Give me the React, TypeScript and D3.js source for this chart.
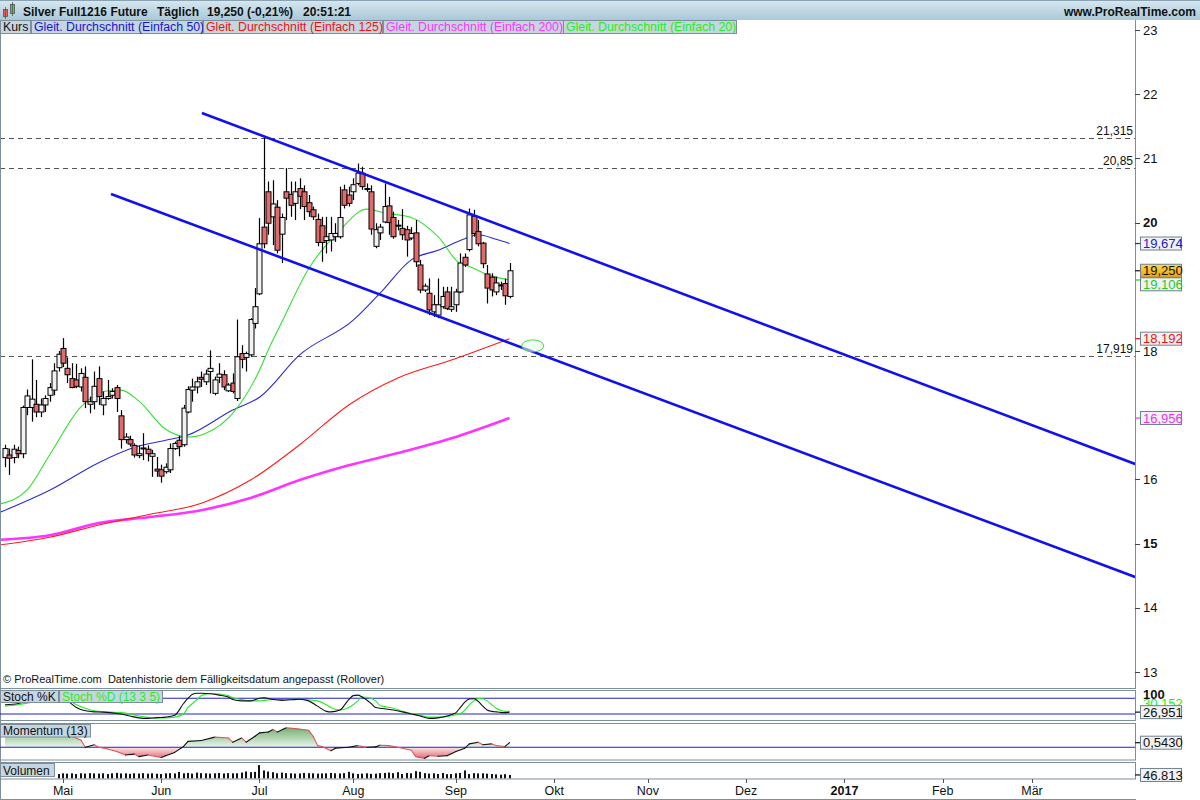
import React from 'react';
import * as d3 from 'd3';

// ---------- DATA ----------
const FIRST_INDEX = -13; // trading-day index (0 = 2 May 2016)
const openP = [16.34,16.38,16.34,16.45,16.40,17.12,17.12,17.17,17.05,17.16,17.31,17.39,17.74,
  18.04,17.73,17.57,17.55,17.44,17.59,17.17,17.21,17.57,17.16,
  17.26,17.31,17.43,16.99,16.62,16.62,16.53,16.37,16.48,16.47,
  16.36,16.16,16.15,16.12,16.15,16.48,16.61,16.54,17.05,17.39,
  17.44,17.59,17.52,17.68,17.34,17.59,17.63,17.38,17.50,17.26,
  17.96,17.90,17.94,18.43,18.89,19.93,20.48,20.09,20.24,19.82,
  20.48,20.44,20.30,20.53,20.48,20.31,20.20,20.05,19.95,19.72,
  19.73,19.78,19.78,20.51,20.43,20.48,20.61,20.77,20.53,20.48,
  19.63,19.84,20.01,20.26,20.08,19.96,19.91,19.89,19.76,19.84,
  19.34,18.95,18.90,18.61,18.56,18.69,18.92,18.65,18.72,18.92,
  19.46,19.58,20.10,19.86,19.68,19.20,19.15,18.92,19.03,19.05,18.85];
const highP = [16.54,16.48,16.54,16.51,17.15,17.40,17.87,17.55,17.26,17.31,17.50,17.81,18.00,
  18.20,17.90,17.81,17.80,17.73,17.76,17.29,17.68,17.76,17.37,
  17.55,17.42,17.47,17.08,16.72,16.68,16.56,16.53,16.72,16.53,
  16.46,16.35,16.23,16.25,16.56,16.59,16.68,17.16,17.45,17.57,
  17.60,17.68,17.71,18.01,17.60,17.81,17.70,17.50,17.65,18.49,
  18.09,17.99,18.51,18.98,20.07,21.315,20.64,20.66,20.35,20.14,
  20.85,20.64,20.64,20.69,20.58,20.43,20.25,20.14,20.09,20.09,
  20.09,19.99,20.56,20.59,20.56,20.69,20.92,20.87,20.61,20.58,
  19.99,19.98,20.61,20.40,20.17,20.04,20.21,19.95,19.93,20.04,
  19.42,19.05,19.13,18.87,19.13,19.00,19.00,19.00,18.97,19.52,
  19.52,20.22,20.20,20.04,19.70,19.34,19.21,19.16,19.08,19.13,19.37];
const lowP = [16.19,16.07,16.25,16.33,16.33,17.00,16.90,16.97,16.97,17.05,17.21,17.31,17.68,
  17.75,17.50,17.42,17.42,17.37,17.11,17.03,17.09,17.16,17.00,
  17.24,17.26,17.05,16.48,16.56,16.51,16.34,16.33,16.30,16.28,
  16.04,16.04,15.95,16.09,16.10,16.46,16.36,16.51,17.03,17.21,
  17.34,17.44,17.47,17.34,17.31,17.50,17.39,17.36,17.34,17.22,
  17.73,17.68,17.91,18.35,18.87,19.60,19.81,19.65,19.52,19.37,
  20.04,20.09,20.04,20.21,20.04,20.09,20.04,19.63,19.39,19.52,
  19.55,19.70,19.75,20.22,20.25,20.35,20.58,20.51,20.48,19.81,
  19.60,19.73,19.99,19.81,19.75,19.88,19.73,19.47,19.73,19.31,
  18.90,18.92,18.56,18.53,18.51,18.66,18.64,18.61,18.61,18.90,
  19.31,19.55,19.78,19.63,19.29,18.74,18.85,18.87,18.95,18.72,18.82];
const closeP = [16.48,16.33,16.47,16.40,17.12,17.30,17.25,17.05,17.16,17.26,17.43,17.69,17.95,
  17.81,17.63,17.43,17.45,17.65,17.21,17.21,17.45,17.29,17.26,
  17.29,17.37,17.26,16.62,16.66,16.55,16.38,16.40,16.49,16.40,
  16.40,16.13,16.05,16.19,16.48,16.56,16.51,17.11,17.40,17.44,
  17.52,17.56,17.64,17.73,17.55,17.64,17.44,17.47,17.37,17.91,
  17.87,17.96,18.49,18.69,19.67,19.67,19.99,20.29,19.57,20.08,
  20.38,20.27,20.48,20.41,20.25,20.17,20.09,19.69,19.69,19.78,
  19.83,19.83,20.08,20.27,20.30,20.59,20.77,20.56,20.52,19.90,
  19.89,19.93,20.25,20.00,19.78,19.95,19.81,19.73,19.83,19.39,
  18.95,19.01,18.64,18.72,18.72,18.85,18.66,18.69,18.92,19.37,
  19.34,20.12,19.83,19.67,19.36,18.98,18.95,19.06,19.02,18.86,19.25];

// moving averages (index, value)
const ma20Idx = [-14,-8,-3,4,10,13,17,23,28,32,38,44,46,49,55,62,68,72,78,84,89,90,96,100];
const ma20Val = [15.62,15.84,16.38,17.13,17.38,17.39,17.22,16.78,16.66,16.72,17.03,17.70,18.02,18.45,19.28,19.88,20.21,20.15,20.08,19.78,19.36,19.34,19.17,19.106];
const ma50Idx = [-14,-3,8,16,23,28,38,44,53,65,71,78,84,90,93,97,100];
const ma50Val = [15.49,15.83,16.26,16.50,16.61,16.69,17.08,17.28,17.94,18.48,18.90,19.42,19.57,19.75,19.81,19.74,19.674];
const ma125Idx = [-14,-3,8,19,31,42,53,64,75,87,100];
const ma125Val = [14.98,15.10,15.29,15.45,15.63,15.99,16.54,17.16,17.58,17.86,18.192];
const ma200Idx = [-14,-3,8,19,31,42,53,64,75,87,100];
const ma200Val = [15.06,15.13,15.32,15.41,15.52,15.71,15.99,16.22,16.41,16.64,16.956];

// trend channel lines: [index1, price1, index2, price2]
const upperTrend = [31.1, 21.707, 240.1, 16.24];
const lowerTrend = [10.75, 20.446, 240.1, 14.48];

const hLevels = [21.315, 20.85, 17.919];
const hLevelLabels = ['21,315', '20,85', '17,919'];

const priceTicks = [23, 22, 21, 20, 18, 16, 15, 14, 13];
const boldTicks = [20, 15];

const monthLabels = ['Mai','Jun','Jul','Aug','Sep','Okt','Nov','Dez','2017','Feb','Mär'];
const monthIdx = [0, 22, 44, 65, 88, 110, 131, 153, 175, 197, 217];

// stochastic (index, %K, %D)
const stochIdx = [-13,-10,-7,-4,-1,1,3,5,7,9,11,13,15,17,19,21,23,25,27,28,29,30,31,33,35,37,38,40,42,44,45,47,49,51,53,55,57,59,60,62,64,65,66,67,69,70,71,72,74,76,78,80,82,84,86,87,88,89,90,91,92,93,94,95,96,97,98,99,100];
const stochK = [55,60,75,80,85,70,45,32,28,27,24,20,12,5,3,6,8,15,60,80,95,99,99,97,92,85,75,70,70,80,82,75,72,74,76,70,50,30,28,35,75,90,92,85,60,45,42,40,35,28,20,12,3,5,12,18,25,45,65,77,78,68,50,35,30,28,26,25,26.951];
const stochD = [50,55,65,72,78,75,55,42,32,28,27,25,20,12,7,5,5,8,20,45,60,75,90,98,96,90,82,75,70,70,72,75,75,75,76,74,70,55,45,35,45,55,70,85,80,70,52,48,42,30,22,15,8,8,10,13,17,22,35,55,70,79,78,70,55,42,34,30,30.152];

// momentum (13)
const momIdx = [-13,-10,-7,-4,-1,2,4,5,7,8,10,12,14,16,17,19,22,23,25,27,28,31,34,37,38,40,41,43,44,46,47,48,50,52,55,56,57,58,60,61,64,66,68,70,71,73,75,78,79,81,82,84,86,88,90,91,93,94,96,97,99,100];
const momVal = [1.9,2.0,2.1,2.0,1.9,1.3,0.86,0.0,0.3,0.0,-0.2,-0.5,-0.9,-0.8,-1.1,-0.9,-1.2,-1.0,-0.6,0.1,0.7,0.8,1.2,1.1,0.6,1.1,0.6,1.3,1.7,1.8,2.1,1.8,2.3,2.2,2.0,1.3,0.2,0.1,-0.4,-0.1,0.0,0.2,0.0,0.05,0.25,0.2,0.0,-0.35,-1.1,-1.3,-1.0,-1.05,-1.0,-0.5,-0.1,0.4,0.6,0.3,0.4,0.2,0.1,0.543];

// volume (thousands), starting at index -1
const VOL_FIRST = -1;
const volume = [60,70,65,70,60,70,65,72,68,65,70,60,70,75,68,70,62,70,66,72,65,70,64,60,70,72,68,90,70,75,65,80,72,70,66,70,75,68,72,70,70,80,95,85,90,185,110,95,85,70,80,72,70,66,68,75,72,70,65,68,70,75,70,68,72,90,70,60,65,70,62,65,72,75,80,72,85,60,75,70,100,90,72,65,70,60,75,58,60,70,75,110,60,72,68,70,64,60,55,50,58,47];

// ---------- LAYOUT ----------
const FONT = '"Liberation Sans", Arial, sans-serif';
const FRAME = '#7d8e9c';
const PR = 1135;
const MAIN_TOP = 20;
const MAIN_BOTTOM = 688;

export default function App() {
  const x = d3.scaleLinear().domain([0, 217]).range([63, 1032]);
  const y = d3.scaleLinear().domain([13, 23]).range([672, 30]);
  const ys = d3.scaleLinear().domain([0, 100]).range([719.2, 693]);
  const ym = d3.scaleLinear().domain([0, 1]).range([747.3, 738.8]);
  const yv = d3.scaleLinear().domain([0, 200]).range([778.3, 764]);

  const line = (idx: number[], vals: number[], ysc: any) =>
    d3.line<number>().x((_, i) => x(idx[i])).y((v) => ysc(v)).curve(d3.curveMonotoneX)(vals) || '';

  const candles = closeP.map((c, i) => ({ k: FIRST_INDEX + i, o: openP[i], h: highP[i], l: lowP[i], c }));

  const momArea = d3.area<number>().x((_, i) => x(momIdx[i])).y0(ym(0)).y1((v) => ym(v)).curve(d3.curveMonotoneX)(momVal) || '';

  const trend = (t: number[]) => ({ x1: x(t[0]), y1: y(t[1]), x2: x(t[2]), y2: y(t[3]) });
  const up = trend(upperTrend);
  const lo = trend(lowerTrend);

  const valueBox = (yv0: number, text: string, color: string, key: string, fill = '#f2f2f2', shift = 0) => {
    const yc = yv0 + shift;
    return (
      <g key={key}>
        <line x1={PR} x2={1141} y1={yv0} y2={yv0} stroke={color} strokeWidth={1.2} />
        <rect x={1140.5} y={yc - 6.5} width={41} height={13} fill={fill} stroke="#6e8190" />
        <text x={1143} y={yc + 4.6} fontSize={13} fill={color} fontFamily={FONT}>{text}</text>
      </g>
    );
  };

  return (
    <div style={{ position: 'absolute', left: 0, top: 0 }}>
      <svg width={1200} height={800} style={{ display: 'block', background: '#fff' }}>
        <defs>
          <linearGradient id="hdr" x1="0" y1="0" x2="0" y2="1">
            <stop offset="0" stopColor="#d8e8f0" />
            <stop offset="1" stopColor="#a9c8d8" />
          </linearGradient>
          <linearGradient id="gold" x1="0" y1="0" x2="0" y2="1">
            <stop offset="0" stopColor="#ffd84a" />
            <stop offset="1" stopColor="#f0a400" />
          </linearGradient>
          <linearGradient id="momG" gradientUnits="userSpaceOnUse" x1="0" y1={ym(2.4)} x2="0" y2={ym(0)}>
            <stop offset="0" stopColor="#6fae6f" />
            <stop offset="1" stopColor="#eaf5ea" />
          </linearGradient>
          <linearGradient id="momR" gradientUnits="userSpaceOnUse" x1="0" y1={ym(0)} x2="0" y2={ym(-1.4)}>
            <stop offset="0" stopColor="#fbe6e8" />
            <stop offset="1" stopColor="#e0606e" />
          </linearGradient>
          <clipPath id="mainClip"><rect x={1} y={MAIN_TOP} width={PR - 1} height={MAIN_BOTTOM - MAIN_TOP} /></clipPath>
          <clipPath id="momUp"><rect x={0} y={720} width={PR} height={ym(0) - 720} /></clipPath>
          <clipPath id="momDn"><rect x={0} y={ym(0)} width={PR} height={20} /></clipPath>
        </defs>

        {/* header */}
        <rect x={0} y={0} width={1200} height={20} fill="url(#hdr)" />
        <line x1={0} x2={1200} y1={0.5} y2={0.5} stroke="#8aa3b3" />
        <rect x={3.5} y={9.5} width={4} height={7} fill="#e35d5d" stroke="#555" strokeWidth={0.8} />
        <line x1={5.5} x2={5.5} y1={7} y2={19} stroke="#555" strokeWidth={0.8} />
        <rect x={10.5} y={4.5} width={4} height={9} fill="#33dd33" stroke="#555" strokeWidth={0.8} />
        <line x1={12.5} x2={12.5} y1={2} y2={16} stroke="#555" strokeWidth={0.8} />
        <g fontFamily={FONT} fontWeight="bold" fontSize={12} fill="#111">
          <text x={23} y={15.5}>Silver Full1216 Future</text>
          <text x={157} y={15.5}>Täglich</text>
          <text x={207} y={15.5}>19,250 (-0,21%)</text>
          <text x={303} y={15.5}>20:51:21</text>
          <text x={1196} y={15.5} textAnchor="end">www.ProRealTime.com</text>
        </g>

        {/* main panel frame */}
        <line x1={0.5} x2={0.5} y1={20} y2={800} stroke={FRAME} />
        <line x1={PR + 0.5} x2={PR + 0.5} y1={20} y2={MAIN_BOTTOM} stroke={FRAME} />
        <line x1={0} x2={PR + 1} y1={MAIN_BOTTOM + 0.5} y2={MAIN_BOTTOM + 0.5} stroke={FRAME} />

        {/* right price axis */}
        <g fontFamily={FONT} fontSize={13} fill="#111">
          {priceTicks.map((p) => (
            <g key={p}>
              <line x1={PR} x2={PR + 5} y1={Math.round(y(p)) + 0.5} y2={Math.round(y(p)) + 0.5} stroke="#444" />
              <text x={1143} y={y(p) + 4.6} fontWeight={boldTicks.includes(p) ? 'bold' : 'normal'}>{p}</text>
            </g>
          ))}
        </g>

        <g clipPath="url(#mainClip)">
          {/* horizontal levels */}
          {hLevels.map((h, i) => (
            <g key={h}>
              <line x1={0} x2={PR} y1={Math.round(y(h)) + 0.5} y2={Math.round(y(h)) + 0.5} stroke="#555" strokeDasharray="5,4" />
              <text x={1133} y={y(h) - 3.5} textAnchor="end" fontFamily={FONT} fontSize={12} fill="#111">{hLevelLabels[i]}</text>
            </g>
          ))}

          {/* moving averages */}
          <path d={line(ma200Idx, ma200Val, y)} fill="none" stroke="#ff33ff" strokeWidth={2.6} />
          <path d={line(ma125Idx, ma125Val, y)} fill="none" stroke="#ff1a1a" strokeWidth={1.1} />
          <path d={line(ma50Idx, ma50Val, y)} fill="none" stroke="#2b2bd0" strokeWidth={1.1} />
          <path d={line(ma20Idx, ma20Val, y)} fill="none" stroke="#33e033" strokeWidth={1.1} />

          {/* candles */}
          {candles.map((d) => {
            const cx = Math.round(x(d.k)) + 0.5;
            const top = y(Math.max(d.o, d.c));
            const bot = y(Math.min(d.o, d.c));
            const bull = d.c >= d.o;
            return (
              <g key={d.k}>
                <line x1={cx} x2={cx} y1={y(d.h)} y2={y(d.l)} stroke="#000" strokeWidth={1.2} />
                <rect x={cx - 2.5} y={top} width={5} height={Math.max(1, bot - top)} fill={bull ? '#f2f2f2' : '#e26a6a'} stroke="#000" strokeWidth={1} />
              </g>
            );
          })}

          {/* trend channel */}
          <line {...up} stroke="#1010f0" strokeWidth={2.6} />
          <line {...lo} stroke="#1010f0" strokeWidth={2.6} />

          {/* green ellipse marker */}
          <ellipse cx={x(105.2)} cy={y(18.08)} rx={11} ry={6} fill="#e8fbe8" fillOpacity={0.6} stroke="#44dd44" strokeWidth={1} />

          <text x={3} y={683} fontFamily={FONT} fontSize={11} fill="#111" xmlSpace="preserve">© ProRealTime.com  Datenhistorie dem Fälligkeitsdatum angepasst (Rollover)</text>
        </g>

        {/* value labels on price axis */}
        {valueBox(y(19.674), '19,674', '#2020c8', 'ma50')}
        {valueBox(y(19.106), '19,106', '#22cc22', 'ma20', '#f2f2f2', 4.3)}
        {valueBox(y(19.25), '19,250', '#111', 'last', 'url(#gold)')}
        {valueBox(y(18.192), '18,192', '#ee1111', 'ma125')}
        {valueBox(y(16.956), '16,956', '#ee33ee', 'ma200')}

        {/* legend row */}
        <g fontFamily={FONT} fontSize={12.3}>
          <rect x={0.5} y={20.5} width={30} height={13} fill="#c5d6e0" stroke={FRAME} />
          <text x={3} y={31} fill="#111">Kurs</text>
          <rect x={31.5} y={20.5} width={171} height={13} fill="#c5d6e0" stroke={FRAME} />
          <text x={34} y={31} fill="#1515d0">Gleit. Durchschnitt (Einfach 50)</text>
          <rect x={203.5} y={20.5} width={179} height={13} fill="#c5d6e0" stroke={FRAME} />
          <text x={206} y={31} fill="#ee1111">Gleit. Durchschnitt (Einfach 125)</text>
          <rect x={383.5} y={20.5} width={180} height={13} fill="#c5d6e0" stroke={FRAME} />
          <text x={386} y={31} fill="#ff33ff">Gleit. Durchschnitt (Einfach 200)</text>
          <rect x={563.5} y={20.5} width={173} height={13} fill="#c5d6e0" stroke={FRAME} />
          <text x={566} y={31} fill="#22ee22">Gleit. Durchschnitt (Einfach 20)</text>
        </g>

        {/* ---------- Stochastic panel ---------- */}
        <rect x={0.5} y={690.5} width={PR} height={30} fill="none" stroke={FRAME} />
        <line x1={0} x2={PR} y1={ys(80)} y2={ys(80)} stroke="#2020c8" strokeWidth={1.1} />
        <line x1={0} x2={PR} y1={ys(20)} y2={ys(20)} stroke="#2020c8" strokeWidth={1.1} />
        <path d={line(stochIdx, stochD, ys)} fill="none" stroke="#22ee22" strokeWidth={1.1} />
        <path d={line(stochIdx, stochK, ys)} fill="none" stroke="#111" strokeWidth={1.1} />
        <g fontFamily={FONT} fontSize={12}>
          <rect x={0.5} y={690.5} width={58} height={12} fill="#c5d6e0" stroke={FRAME} />
          <text x={3} y={701} fill="#111">Stoch %K</text>
          <rect x={59.5} y={690.5} width={103} height={12} fill="#c5d6e0" stroke={FRAME} />
          <text x={62} y={701} fill="#22ee22">Stoch %D (13 3 5)</text>
        </g>
        <g fontFamily={FONT} fontSize={13}>
          <text x={1143} y={699} fill="#111" fontWeight="bold">100</text>
          <text x={1143} y={708} fill="#22ee22">30,152</text>
        </g>
        {valueBox(ys(26.951), '26,951', '#111', 'stk')}

        {/* ---------- Momentum panel ---------- */}
        <rect x={0.5} y={723.5} width={PR} height={36.5} fill="none" stroke={FRAME} />
        <path d={momArea} fill="url(#momG)" clipPath="url(#momUp)" />
        <path d={momArea} fill="url(#momR)" clipPath="url(#momDn)" />
        <line x1={0} x2={PR} y1={ym(0)} y2={ym(0)} stroke="#2020c8" strokeWidth={1.1} />
        {momVal.slice(1).map((v, i) => {
          const pv = momVal[i];
          return (
            <line key={i} x1={x(momIdx[i])} y1={ym(pv)} x2={x(momIdx[i + 1])} y2={ym(v)}
              stroke={v >= pv ? '#111' : '#e05555'} strokeWidth={1.1} strokeLinecap="round" />
          );
        })}
        <g fontFamily={FONT} fontSize={12}>
          <rect x={0.5} y={724.5} width={90} height={12.5} fill="#c5d6e0" stroke={FRAME} />
          <text x={3} y={735} fill="#111">Momentum (13)</text>
        </g>
        {valueBox(ym(0.543), '0,5430', '#111', 'mom')}

        {/* ---------- Volume panel ---------- */}
        <rect x={0.5} y={762.5} width={PR} height={16.5} fill="none" stroke={FRAME} />
        {volume.map((v, i) => {
          const cx = Math.round(x(VOL_FIRST + i));
          return <rect key={i} x={cx - 1} y={yv(v)} width={2} height={yv(0) - yv(v)} fill="#111" />;
        })}
        <g fontFamily={FONT} fontSize={12}>
          <rect x={0.5} y={763.5} width={54} height={13} fill="#c5d6e0" stroke={FRAME} />
          <text x={3} y={774.5} fill="#111">Volumen</text>
        </g>
        {valueBox(yv(46.813), '46.813', '#111', 'vol')}

        {/* ---------- time axis ---------- */}
        <line x1={0} x2={PR + 1} y1={799.5} y2={799.5} stroke={FRAME} />
        <g fontFamily={FONT} fontSize={12.5} fill="#111">
          {monthLabels.map((m, i) => (
            <g key={m}>
              <line x1={Math.round(x(monthIdx[i])) + 0.5} x2={Math.round(x(monthIdx[i])) + 0.5} y1={779} y2={783} stroke="#555" />
              <text x={x(monthIdx[i])} y={795} textAnchor="middle" fontWeight={m === '2017' ? 'bold' : 'normal'}>{m}</text>
            </g>
          ))}
        </g>
      </svg>
    </div>
  );
}
